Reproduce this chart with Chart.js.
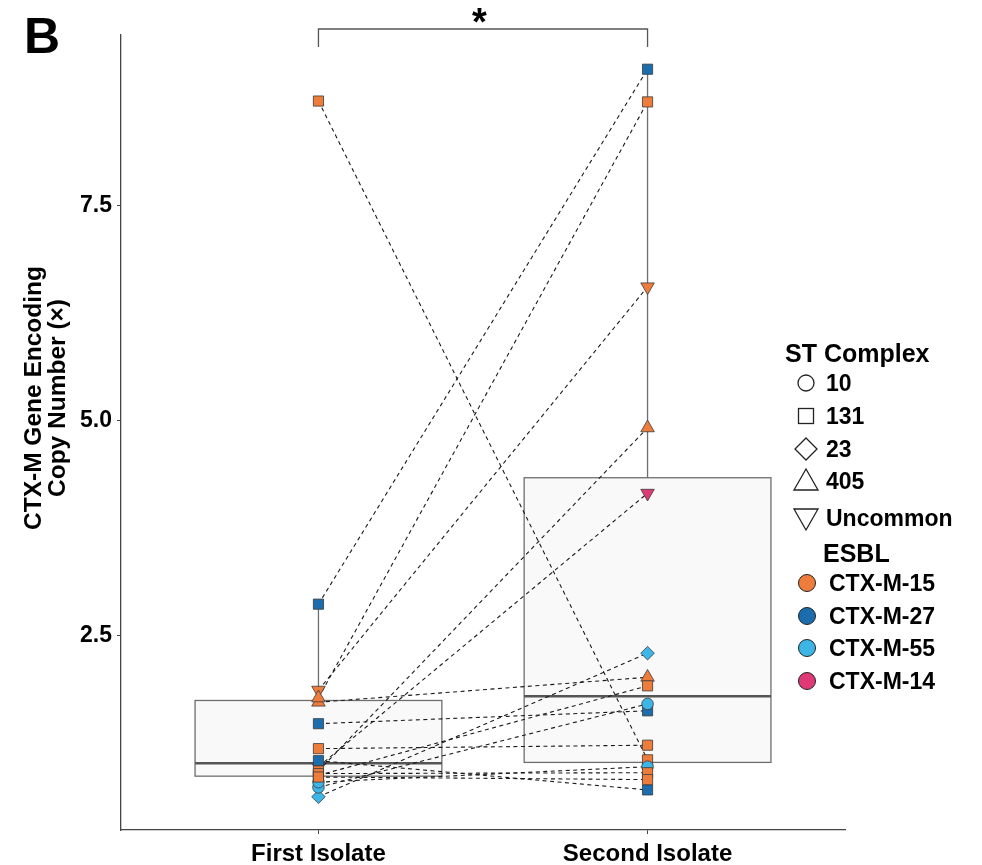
<!DOCTYPE html>
<html>
<head>
<meta charset="utf-8">
<script src="https://cdn.jsdelivr.net/npm/chart.js@4"></script>
<style>
  html, body { margin: 0; padding: 0; background: #fff; }
  #wrap { position: relative; width: 982px; height: 865px; font-family: "Liberation Sans", Arial, sans-serif; }
  canvas { position: absolute; left: 0; top: 0; }
  .t { position: absolute; font-weight: bold; color: #000; white-space: nowrap; line-height: 30px; height: 30px; }
  #ytitle { position: absolute; left: 45px; top: 398px; transform: translate(-50%, -50%) rotate(-90deg); font-weight: bold; font-size: 24.5px; line-height: 24px; text-align: center; white-space: nowrap; }
  svg.leg { position: absolute; left: 0; top: 0; }
</style>
</head>
<body>
<div id="wrap">
  <canvas id="c" width="982" height="865"></canvas>
  <div class="t" style="left:24px; top:11px; font-size:50px; line-height:50px; height:50px;">B</div>
  <div class="t" style="left:472px; top:3px; font-size:38px; line-height:38px; height:38px;">*</div>
  <div id="ytitle">CTX-M Gene Encoding<br>Copy Number (×)</div>
  <svg class="leg" width="982" height="865" id="legsvg"></svg>
  <div class="t" style="left:785px; top:338px; font-size:25px;">ST Complex</div>
  <div class="t" style="left:826px; top:368px; font-size:23px;">10</div>
  <div class="t" style="left:826px; top:401px; font-size:23px;">131</div>
  <div class="t" style="left:826px; top:434px; font-size:23px;">23</div>
  <div class="t" style="left:826px; top:466px; font-size:23px;">405</div>
  <div class="t" style="left:826px; top:503px; font-size:23px;">Uncommon</div>
  <div class="t" style="left:823px; top:538px; font-size:25px;">ESBL</div>
  <div class="t" style="left:829px; top:568px; font-size:23px;">CTX-M-15</div>
  <div class="t" style="left:829px; top:601px; font-size:23px;">CTX-M-27</div>
  <div class="t" style="left:829px; top:633px; font-size:23px;">CTX-M-55</div>
  <div class="t" style="left:829px; top:666px; font-size:23px;">CTX-M-14</div>
</div>
<script>
// ---------------- DATA ----------------
const categories = ['First Isolate', 'Second Isolate'];
const yTicks = [2.5, 5.0, 7.5];

// paired isolates (index i: first -> second)
const firstValues  = [8.72, 2.87, 1.87, 1.73, 1.78, 1.48, 1.19, 0.98, 0.63, 0.74, 1.05, 0.93, 0.88, 0.80, 0.90, 0.86];
const secondValues = [1.06, 9.09, 6.56, 2.02, 8.71, 1.63, 1.23, 4.16, 2.30, 1.71, 0.71, 4.92, 1.92, 0.98, 0.91, 0.83];
const firstST   = ['131','131','Uncommon','405','405','131','131','Uncommon','23','10','131','131','131','10','131','131'];
const secondST  = ['131','131','Uncommon','405','131','131','131','Uncommon','23','10','131','405','131','10','131','131'];
const firstESBL = ['CTX-M-15','CTX-M-27','CTX-M-15','CTX-M-15','CTX-M-15','CTX-M-27','CTX-M-15','CTX-M-14','CTX-M-55','CTX-M-55','CTX-M-27','CTX-M-15','CTX-M-15','CTX-M-55','CTX-M-15','CTX-M-15'];
const secondESBL= ['CTX-M-15','CTX-M-27','CTX-M-15','CTX-M-15','CTX-M-15','CTX-M-27','CTX-M-15','CTX-M-14','CTX-M-55','CTX-M-55','CTX-M-27','CTX-M-15','CTX-M-15','CTX-M-55','CTX-M-15','CTX-M-15'];

// box plot summary per category
const boxLow    = [0.63, 0.71];
const boxQ1     = [0.87, 1.03];
const boxMedian = [1.02, 1.80];
const boxQ3     = [1.75, 4.34];
const boxHigh   = [2.87, 9.09];

// legend
const stLevels   = ['10', '131', '23', '405', 'Uncommon'];
const esblLevels = ['CTX-M-15', 'CTX-M-27', 'CTX-M-55', 'CTX-M-14'];

// ---------------- STYLES ----------------
const esblColor = { 'CTX-M-15': '#EE7D3B', 'CTX-M-27': '#1C6DAE', 'CTX-M-55': '#3DB5E6', 'CTX-M-14': '#E03A76' };
const stStyle = {
  '10':       { style: 'circle',   rot: 0,   r: 5.8 },
  '131':      { style: 'rect',     rot: 0,   r: 7.2 },
  '23':       { style: 'rectRot',  rot: 0,   r: 6.8 },
  '405':      { style: 'triangle', rot: 0,   r: 7.8 },
  'Uncommon': { style: 'triangle', rot: 180, r: 7.8 }
};

// ---------------- BUILD ----------------
const lineDatasets = firstValues.map((f, i) => ({
  type: 'line',
  data: [{ x: 1, y: f }, { x: 2, y: secondValues[i] }],
  borderColor: '#1a1a1a',
  borderWidth: 1.1,
  borderDash: [4, 3.5],
  pointRadius: 0,
  fill: false,
  order: 1
}));

const pts = [], pStyle = [], pRot = [], pRad = [], pCol = [];
function addPt(x, y, st, es) {
  pts.push({ x, y });
  pStyle.push(stStyle[st].style);
  pRot.push(stStyle[st].rot);
  pRad.push(stStyle[st].r);
  pCol.push(esblColor[es]);
}
firstValues.forEach((v, i) => addPt(1, v, firstST[i], firstESBL[i]));
secondValues.forEach((v, i) => addPt(2, v, secondST[i], secondESBL[i]));

const pointDataset = {
  type: 'scatter',
  data: pts,
  pointStyle: pStyle,
  rotation: pRot,
  pointRotation: pRot,
  pointRadius: pRad,
  backgroundColor: pCol,
  borderColor: '#3a3a3a',
  borderWidth: 0.8,
  order: 0
};

const boxPlugin = {
  id: 'boxes',
  beforeDatasetsDraw(chart) {
    const { ctx, scales: { x, y } } = chart;
    ctx.save();
    for (let i = 0; i < categories.length; i++) {
      const cx = x.getPixelForValue(i + 1);
      const hw = x.getPixelForValue(i + 1 + 0.375) - cx;
      const yl = y.getPixelForValue(boxLow[i]);
      const y1 = y.getPixelForValue(boxQ1[i]);
      const ym = y.getPixelForValue(boxMedian[i]);
      const y3 = y.getPixelForValue(boxQ3[i]);
      const yh = y.getPixelForValue(boxHigh[i]);
      ctx.strokeStyle = '#6e6e6e';
      ctx.lineWidth = 1.3;
      ctx.beginPath();
      ctx.moveTo(cx, y3); ctx.lineTo(cx, yh);
      ctx.moveTo(cx, y1); ctx.lineTo(cx, yl);
      ctx.stroke();
      ctx.fillStyle = 'rgba(245,245,245,0.6)';
      ctx.fillRect(cx - hw, y3, 2 * hw, y1 - y3);
      ctx.strokeRect(cx - hw, y3, 2 * hw, y1 - y3);
      ctx.strokeStyle = '#555';
      ctx.lineWidth = 2.4;
      ctx.beginPath();
      ctx.moveTo(cx - hw, ym); ctx.lineTo(cx + hw, ym);
      ctx.stroke();
    }
    // significance bracket
    const xa = x.getPixelForValue(1), xb = x.getPixelForValue(2);
    ctx.strokeStyle = '#555';
    ctx.lineWidth = 1.3;
    ctx.beginPath();
    ctx.moveTo(xa, 47); ctx.lineTo(xa, 29); ctx.lineTo(xb, 29); ctx.lineTo(xb, 47);
    ctx.stroke();
    ctx.restore();
  }
};

const tickFont = { family: '"Liberation Sans", Arial, sans-serif', size: 23, weight: 'bold' };

new Chart(document.getElementById('c'), {
  type: 'scatter',
  data: { datasets: [pointDataset, ...lineDatasets] },
  options: {
    responsive: false,
    animation: false,
    events: [],
    layout: { padding: { top: 35, right: 137, left: 0, bottom: 0 } },
    plugins: { legend: { display: false }, tooltip: { enabled: false } },
    clip: false,
    scales: {
      x: {
        type: 'linear', min: 0.4, max: 2.6,
        afterBuildTicks: s => { s.ticks = [1, 2].map(v => ({ value: v })); },
        afterFit: s => { s.height = 35; },
        ticks: { callback: v => categories[v - 1], font: { family: '"Liberation Sans", Arial, sans-serif', size: 24, weight: 'bold' }, color: '#000', padding: 6, maxRotation: 0 },
        grid: { drawOnChartArea: false, drawTicks: true, tickLength: 4, color: '#444' },
        border: { display: true, color: '#444', width: 1.3 }
      },
      y: {
        type: 'linear', min: 0.244, max: 9.488,
        afterBuildTicks: s => { s.ticks = yTicks.map(v => ({ value: v })); },
        afterFit: s => { s.width = 121; },
        ticks: { callback: v => v.toFixed(1), font: tickFont, color: '#000', padding: 5 },
        grid: { drawOnChartArea: false, drawTicks: true, tickLength: 4, color: '#444' },
        border: { display: true, color: '#444', width: 1.3 }
      }
    }
  },
  plugins: [boxPlugin]
});

// legend shapes
(function () {
  const svg = document.getElementById('legsvg');
  const ns = 'http://www.w3.org/2000/svg';
  function el(tag, attrs) { const e = document.createElementNS(ns, tag); for (const k in attrs) e.setAttribute(k, attrs[k]); svg.appendChild(e); }
  const sx = 806, stY = [383, 416, 449, 481, 518];
  const stroke = { fill: 'none', stroke: '#222', 'stroke-width': 1.3 };
  stLevels.forEach((lv, i) => {
    const y = stY[i];
    if (lv === '10') el('circle', Object.assign({ cx: sx, cy: y, r: 8 }, stroke));
    if (lv === '131') el('rect', Object.assign({ x: sx - 7.5, y: y - 7.5, width: 15, height: 15 }, stroke));
    if (lv === '23') el('polygon', Object.assign({ points: `${sx},${y-11} ${sx+11},${y} ${sx},${y+11} ${sx-11},${y}` }, stroke));
    if (lv === '405') el('polygon', Object.assign({ points: `${sx},${y-12} ${sx+12},${y+9} ${sx-12},${y+9}` }, stroke));
    if (lv === 'Uncommon') el('polygon', Object.assign({ points: `${sx},${y+12} ${sx+12},${y-9} ${sx-12},${y-9}` }, stroke));
  });
  const eY = [583, 616, 648, 681];
  esblLevels.forEach((lv, i) => {
    el('circle', { cx: 807, cy: eY[i], r: 8.5, fill: esblColor[lv], stroke: '#222', 'stroke-width': 1 });
  });
})();
</script>
</body>
</html>
